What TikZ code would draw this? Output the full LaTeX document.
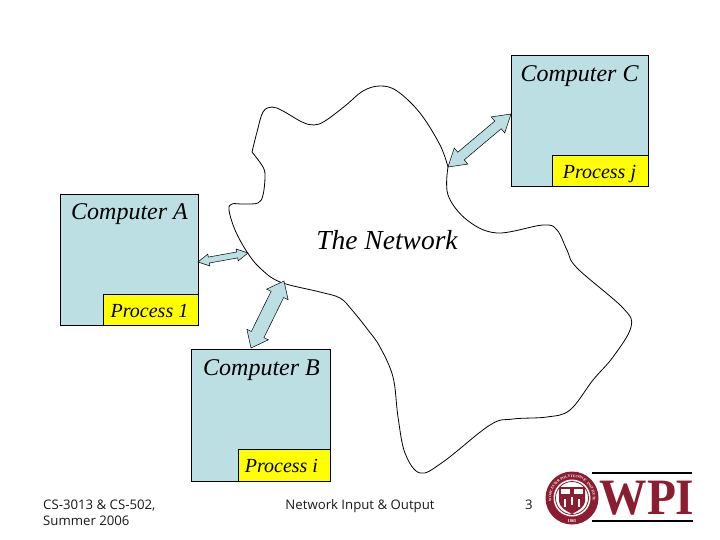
\documentclass[tikz,border=0pt]{standalone}
\usepackage{fontspec}
\setmainfont{Liberation Serif}
\newfontfamily\footfont{Open Sans}
\usetikzlibrary{calc,decorations.text}
\definecolor{boxblue}{HTML}{BBDFE2}
\definecolor{procyellow}{HTML}{FFFF00}
\definecolor{wpired}{HTML}{8C1C30}
\tikzset{
  x=1pt,y=-1pt,
  compbox/.style={draw=black,fill=boxblue,line width=0.8pt},
  procbox/.style={draw=black,fill=procyellow,line width=0.8pt},
  complabel/.style={font=\fontsize{24}{26}\selectfont\itshape,inner sep=0pt,anchor=base},
  netlabel/.style={font=\fontsize{27.5}{30}\selectfont\itshape,inner sep=0pt,anchor=base},
  proclabel/.style={font=\fontsize{20}{22}\selectfont\itshape,inner sep=0pt,anchor=base},
  footlabel/.style={font=\footfont\fontsize{13.2}{16}\selectfont,inner sep=0pt,text=black!90},
  linkarrow/.style={draw=black,fill=boxblue,line width=0.5pt,line join=miter},
  cloudline/.style={draw=black,line width=0.8pt,line join=round}
}
% #1,#2 end points, #3 head length, #4 head half width, #5 shaft half width
\newcommand{\dblarrow}[5]{%
  \path[linkarrow] (#1)
   -- ($(#1)!#3pt!(#2)!#4pt!90:(#2)$)
   -- ($(#1)!#3pt!(#2)!#5pt!90:(#2)$)
   -- ($(#2)!#3pt!(#1)!#5pt!-90:(#1)$)
   -- ($(#2)!#3pt!(#1)!#4pt!-90:(#1)$)
   -- (#2)
   -- ($(#2)!#3pt!(#1)!#4pt!90:(#1)$)
   -- ($(#2)!#3pt!(#1)!#5pt!90:(#1)$)
   -- ($(#1)!#3pt!(#2)!#5pt!-90:(#2)$)
   -- ($(#1)!#3pt!(#2)!#4pt!-90:(#2)$)
   -- cycle;}
\begin{document}
\begin{tikzpicture}
\useasboundingbox (0,0) rectangle (720,540);
\fill[white] (0,0) rectangle (720,540);
% cloud
\draw[cloudline] plot[smooth,tension=0.6] coordinates {
 (448,167)(440,145)(420,113)(397,91)(380,86)(363,91)(345,106)(325,121)(314,125)(302,122)(283,111)(272,107)(263,112)(257,132)(252,152)};
\draw[cloudline] plot[smooth,tension=0.6] coordinates {
 (252,152)(263,167)(265,177)(263,195)(258,203)(243,204)(232,204)(229,210)(235,230)(247,252)(260,268)(280,282)(320,292)(340,298)(352,310)(368,330)(380,347)(393,377)(398,417)(405,453)(420,473)(443,462)(490,425)(513,419)(547,417)(570,410)(593,380)(613,357)(631,327)(623,308)(577,268)(567,250)(557,230)(543,225)(497,233)(467,220)(448,195)(448,167)};
% computers
\path[compbox] (60,194) rectangle (198,325);
\path[compbox] (191,349) rectangle (330,481);
\path[compbox] (511,55) rectangle (648,186);
\node[complabel] (compA) at (129.5,220) {Computer A};
\node[complabel] (compB) at (261.5,375) {Computer B};
\node[complabel] (compC) at (579.5,81.5) {Computer C};
\path[procbox] (103,294) rectangle (198,325);
\path[procbox] (238,449) rectangle (330,481);
\path[procbox] (552,155) rectangle (648,186);
\node[proclabel] (procA) at (149.5,317) {Process 1};
\node[proclabel] (procB) at (281.5,472) {Process i};
\node[proclabel] (procC) at (599.5,178.5) {Process j};
\node[netlabel] (net) at (387,249) {The Network};
% arrows
\coordinate (a1) at (198,262); \coordinate (a2) at (248,253);
\coordinate (b1) at (284,281); \coordinate (b2) at (251,348);
\coordinate (c1) at (448,167); \coordinate (c2) at (511,114);
\dblarrow{a1}{a2}{11}{6}{3}
\dblarrow{b1}{b2}{15}{12}{7}
\dblarrow{c1}{c2}{17}{10.5}{5}
% footer
\node[footlabel,align=left,anchor=base west] (f1) at (43,525.5) {CS-3013 \& CS-502,\\Summer 2006};
\node[footlabel,anchor=base] (f2) at (360,509.5) {Network Input \& Output};
\node[footlabel,anchor=base] (f3) at (529,509.5) {3};
% logo
\draw[black,line width=1.3pt] (592,473) -- (692,473);
\draw[black,line width=1.3pt] (592,521) -- (693,521);
\fill[white] (572,498) circle (29);
\fill[wpired] (572,498) circle (26.5);
\fill[white] (572,498) circle (18.5);
\draw[wpired,line width=0.8pt] (572,498) circle (16.5);
\fill[wpired] (559,487) -- (585,487) -- (585,500) .. controls (585,508) and (577,511) .. (572,514) .. controls (567,511) and (559,508) .. (559,500) -- cycle;
\fill[white] (561,488.5) rectangle (570,494);
\fill[white] (574,488.5) rectangle (583,494);
\fill[white] (564,499) rectangle (566,507);
\fill[white] (578,499) rectangle (580,507);
\fill[white] (571,497) rectangle (573,505);
\path[decorate,decoration={text along path,text align=center,text color=white,
  text={|\fontsize{3.6}{5}\selectfont\bfseries|WORCESTER POLYTECHNIC INSTITUTE}}]
  (554.96,509.93) arc[start angle=-215,end angle=35,radius=20.8] ;
\node[text=white,font=\fontsize{4.4}{5}\selectfont\bfseries,inner sep=0pt] (yr) at (572,521) {1865};
\node[text=wpired,font=\bfseries\fontsize{51}{51}\selectfont,inner sep=0pt,anchor=base,xscale=0.93] (wpi) at (647,514) {WPI};
\end{tikzpicture}
\end{document}
